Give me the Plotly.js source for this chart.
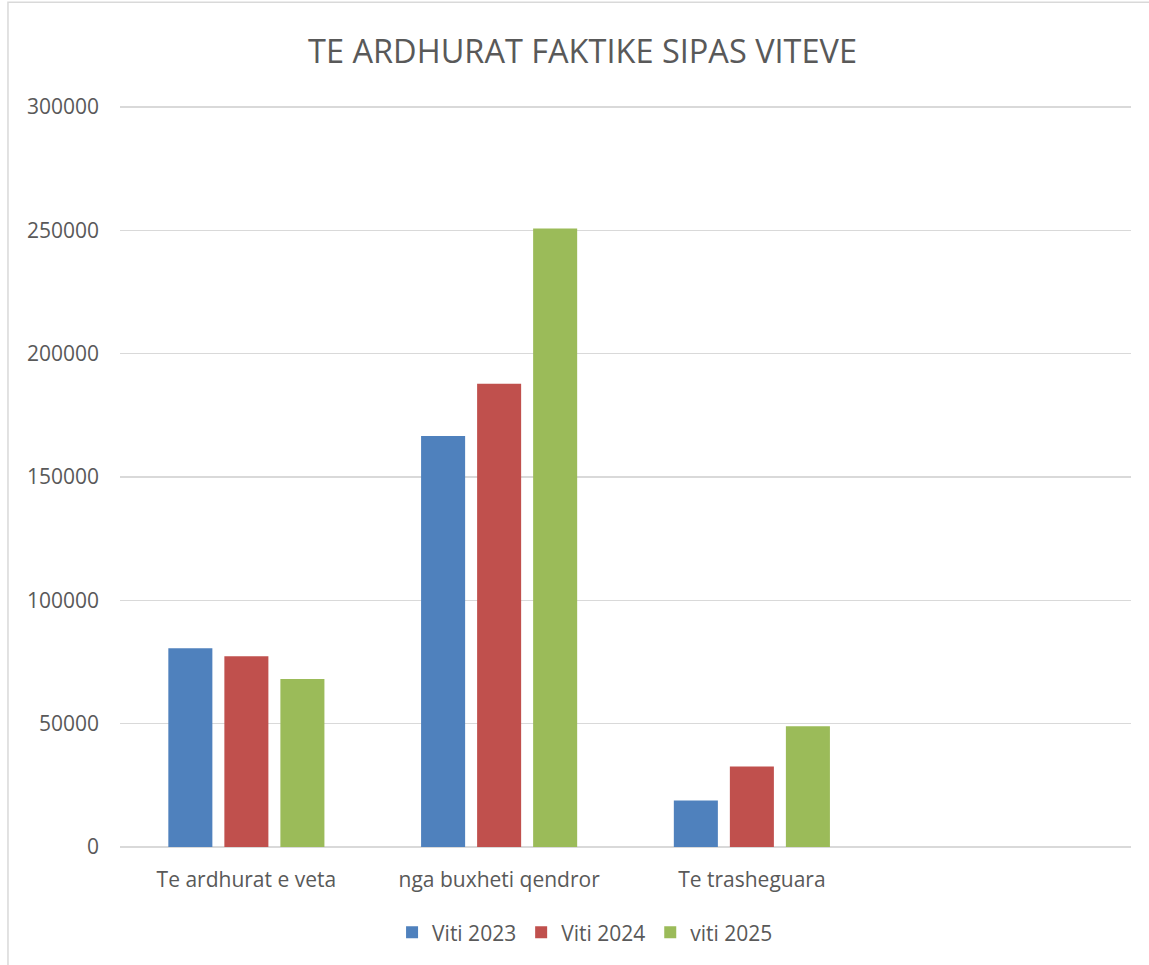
<!DOCTYPE html>
<html>
<head>
<meta charset="utf-8">
<script src="https://cdn.plot.ly/plotly-3.0.1.min.js"></script>
<style>html,body{margin:0;padding:0;background:#fff;}#chart{width:1149px;height:965px;}</style>
</head>
<body>
<div id="chart"></div>
<script>
const categories = ["Te ardhurat e veta", "nga buxheti qendror", "Te trasheguara"];
const seriesNames = ["Viti 2023", "Viti 2024", "viti 2025"];
const viti2023 = [80600, 166600, 18900];
const viti2024 = [77300, 187800, 32600];
const viti2025 = [68100, 250700, 48900];
const seriesColors = ["#4F81BD", "#C0504D", "#9BBB59"];
const yTicks = [0, 50000, 100000, 150000, 200000, 250000, 300000];

const values = [viti2023, viti2024, viti2025];
const traces = values.map((v, i) => ({
  type: "bar",
  name: seriesNames[i],
  x: categories,
  y: v,
  marker: { color: seriesColors[i] },
  hoverinfo: "x+y+name"
}));

const textColor = "#595959";
const font = "'Open Sans', 'Noto Sans', sans-serif";

const layout = {
  width: 1149,
  height: 965,
  margin: { l: 120, r: 18, t: 102, b: 118 },
  paper_bgcolor: "#ffffff",
  plot_bgcolor: "#ffffff",
  font: { family: font, color: textColor, size: 21 },
  title: {
    text: "TE ARDHURAT FAKTIKE SIPAS VITEVE",
    font: { family: font, size: 32.5, color: textColor },
    xref: "container", x: 0.507, xanchor: "center",
    yref: "container", y: 0.946, yanchor: "middle"
  },
  barmode: "group",
  bargap: 0.335,
  bargroupgap: 0.214,
  xaxis: {
    type: "category",
    range: [-0.5, 3.5],
    showgrid: false,
    showline: false,
    zeroline: false,
    ticks: "",
    tickfont: { family: font, size: 21, color: textColor },
    ticklabelstandoff: 18
  },
  yaxis: {
    range: [0, 302000],
    tickvals: yTicks,
    tickformat: "d",
    showgrid: true,
    gridcolor: "#D9D9D9",
    gridwidth: 1.5,
    zeroline: true,
    zerolinecolor: "#D9D9D9",
    zerolinewidth: 1.5,
    showline: false,
    ticks: "",
    tickfont: { family: font, size: 21, color: textColor },
    ticklabelstandoff: 20
  },
  showlegend: true,
  legend: {
    orientation: "h",
    x: 0.46, xanchor: "center",
    y: -0.115, yanchor: "middle",
    font: { family: font, size: 21, color: textColor },
    itemwidth: 30,
    traceorder: "normal"
  },
  shapes: [{
    type: "rect",
    xref: "paper", yref: "paper",
    x0: -0.1108, x1: 1.03, y0: -0.2, y1: 1.134,
    line: { color: "#D9D9D9", width: 1.5 },
    fillcolor: "rgba(0,0,0,0)",
    layer: "below"
  }]
};

Plotly.newPlot("chart", traces, layout, { displayModeBar: false, staticPlot: true });
</script>
</body>
</html>
